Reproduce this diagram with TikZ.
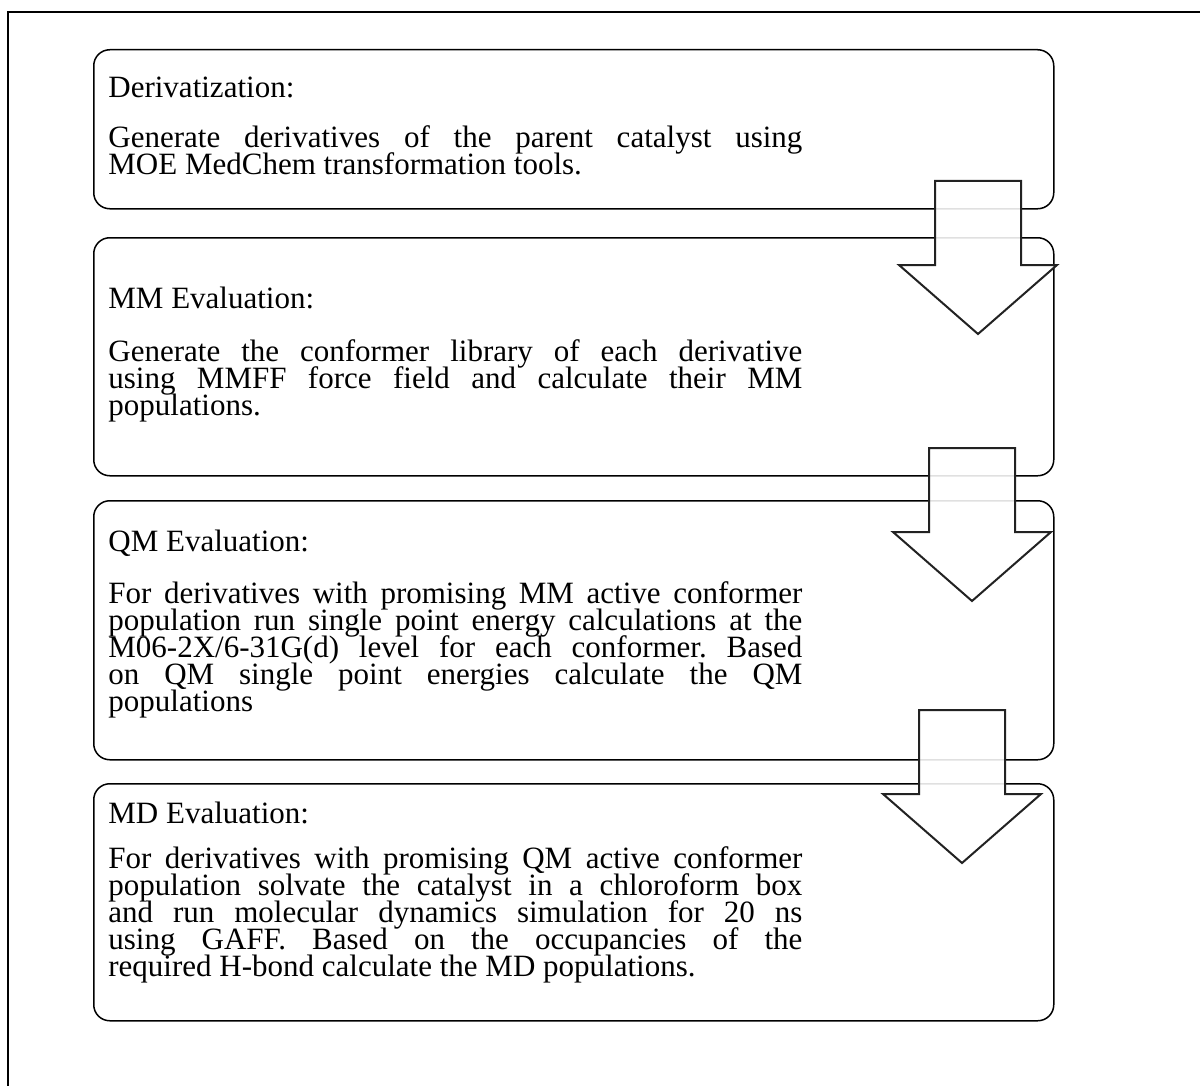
\documentclass[tikz,border=0pt]{standalone}
\usepackage{fontspec}
\setmainfont{Liberation Serif}
\usetikzlibrary{positioning, calc}
\definecolor{flowLine}{RGB}{0, 0, 0}
\definecolor{flowArrow}{RGB}{34, 34, 34}
\newcommand{\stagefont}{\fontsize{15.5}{13.5}\selectfont\lineskiplimit-20pt\relax\frenchspacing}

\begin{document}
\begin{tikzpicture}[
        x=0.5pt, y=-0.5pt,
        stagebox/.style={rectangle, draw=flowLine, line width=0.75pt, rounded corners=8pt, anchor=north west, inner sep=0pt},
        heading/.style={anchor=base west, inner sep=0pt, font=\stagefont},
        bodytext/.style={anchor=base west, inner sep=0pt, text width=347pt, align=justify, font=\stagefont},
        blockarrow/.style={draw=flowArrow, line width=1pt, fill=white, fill opacity=0.88, line join=miter}
      ]
        \useasboundingbox (0,0) rectangle (1200,1086);
        % frame
        \draw[line width=0.9pt] (8,1090) -- (8,12) -- (1205,12);

        % stages
        \node[stagebox, minimum width=480pt, minimum height=79.5pt] (deriv) at (93,49) {};
        \node[stagebox, minimum width=480pt, minimum height=119pt] (mmeval) at (93,237) {};
        \node[stagebox, minimum width=480pt, minimum height=129.5pt] (qmeval) at (93,500) {};
        \node[stagebox, minimum width=480pt, minimum height=118.5pt] (mdeval) at (93,783) {};

        \node[heading] (derivT) at (108,98) {Derivatization:};
        \node[bodytext] (derivB) at (108,148) {Generate derivatives of the parent catalyst using\linebreak MOE MedChem transformation tools.};

        \node[heading] (mmevalT) at (108,308) {MM Evaluation:};
        \node[bodytext] (mmevalB) at (108,361) {Generate the conformer library of each derivative\linebreak using MMFF force field and calculate their MM\linebreak populations.};

        \node[heading] (qmevalT) at (108,551) {QM Evaluation:};
        \node[bodytext] (qmevalB) at (108,603) {For derivatives with promising MM active conformer\linebreak population run single point energy calculations at the\linebreak M06-2X/6-31G(d) level for each conformer. Based\linebreak on QM single point energies calculate the QM\linebreak populations};

        \node[heading] (mdevalT) at (108,823) {MD Evaluation:};
        \node[bodytext] (mdevalB) at (108,868) {For derivatives with promising QM active conformer\linebreak population solvate the catalyst in a chloroform box\linebreak and run molecular dynamics simulation for 20 ns\linebreak using GAFF. Based on the occupancies of the\linebreak required H-bond calculate the MD populations.};

        % block arrows between stages
        \foreach \cx/\ty in {978/181, 972/448, 962/710}
          \draw[blockarrow] (\cx-43,\ty) -- (\cx+43,\ty) -- (\cx+43,\ty+84) -- (\cx+79,\ty+84)
            -- (\cx,\ty+153) -- (\cx-79,\ty+84) -- (\cx-43,\ty+84) -- cycle;
      \end{tikzpicture}
\end{document}
